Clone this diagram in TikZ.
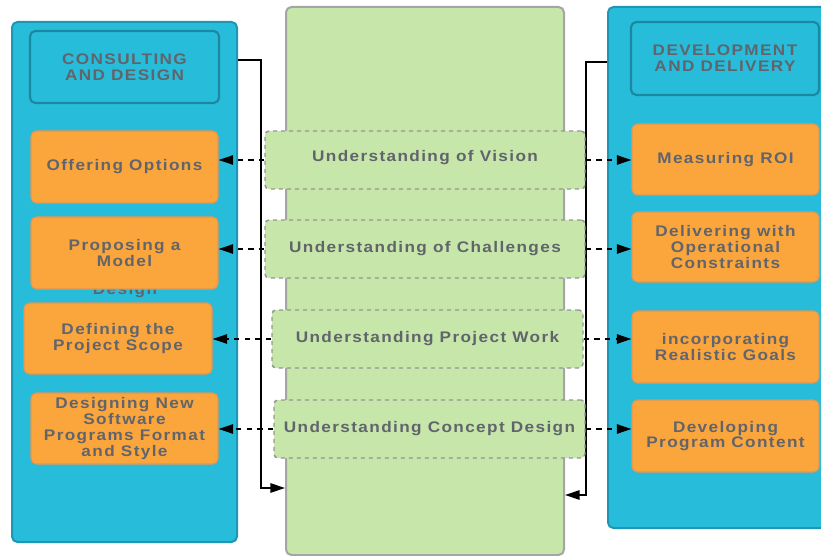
\documentclass[tikz,border=0pt]{standalone}
\usepackage{fontspec}
\setmainfont{Liberation Sans}
\newfontfamily\lab[LetterSpace=9,FakeStretch=1.12]{Liberation Sans}
\usetikzlibrary{arrows.meta,fit}
\definecolor{bluefill}{RGB}{40,188,219}
\definecolor{bluedark}{RGB}{30,150,180}
\definecolor{headb}{RGB}{28,135,160}
\definecolor{orng}{RGB}{250,166,60}
\definecolor{orngb}{RGB}{225,150,85}
\definecolor{grn}{RGB}{198,230,170}
\definecolor{gborder}{RGB}{165,165,165}
\definecolor{gdash}{RGB}{150,150,150}
\definecolor{txt}{RGB}{98,100,108}
\begin{document}
\begin{tikzpicture}[x=0.75pt,y=-0.75pt,
  lbl/.style={font=\lab\bfseries\fontsize{11.5}{11.8}\selectfont, text=txt, align=center},
  panel/.style={draw=bluedark, line width=1.5pt, fill=bluefill, rounded corners=4pt, inner sep=0pt},
  head/.style={lbl, draw=headb, line width=1.6pt, fill=bluefill, rounded corners=4pt, inner sep=0pt},
  obox/.style={lbl, draw=orngb, line width=0.8pt, fill=orng, rounded corners=4pt, inner sep=0pt},
  gbox/.style={lbl, draw=gdash, dashed, line width=1.1pt, fill=grn, rounded corners=3pt, inner sep=0pt},
  column/.style={draw=gborder, line width=1.5pt, fill=grn, rounded corners=4pt, inner sep=0pt},
  solidlink/.style={draw=black, line width=1.5pt, -{Triangle[length=11pt,width=7pt]}},
  dashlink/.style={draw=black, line width=1.3pt, dash pattern=on 4pt off 4pt, -{Triangle[length=11pt,width=7pt]}}
]
\useasboundingbox (0,0) rectangle (821,556);
\clip (0,0) rectangle (821,556);

% panels and column
\node[panel, fit={(12,22) (237,542)}] (lp) {};
\node[panel, fit={(608,7) (840,528)}] (rp) {};
\node[column, fit={(286,7) (564,555)}] (col) {};

% headers
\node[head, fit={(30,31) (219,103)}] (lhead) {};
\node[lbl] at (lhead.center) {CONSULTING\\AND DESIGN};
\node[head, fit={(631,22) (819,95)}] (rhead) {};
\node[lbl] at (rhead.center) {DEVELOPMENT\\AND DELIVERY};

% partially hidden text
\node[lbl, anchor=base] (hid) at (125,294) {Design};

% left orange boxes
\node[obox, fit={(31,131) (218,203)}] (offer) {};
\node[lbl] at (offer.center) {Offering Options};
\node[obox, fit={(31,217) (218,289)}] (propose) {};
\node[lbl] at (propose.center) {Proposing a\\Model};
\node[obox, fit={(24,303) (212,374)}] (define) {};
\node[lbl] at (define.center) {Defining the\\Project Scope};
\node[obox, fit={(31,393) (218,464)}] (designing) {};
\node[lbl] at (designing.center) {Designing New\\Software\\Programs Format\\and Style};

% right orange boxes
\node[obox, fit={(632,124) (819,195)}] (roi) {};
\node[lbl] at (roi.center) {Measuring ROI};
\node[obox, fit={(632,212) (819,282)}] (deliver) {};
\node[lbl] at (deliver.center) {Delivering with\\Operational\\Constraints};
\node[obox, fit={(632,311) (819,383)}] (incorp) {};
\node[lbl] at (incorp.center) {incorporating\\Realistic Goals};
\node[obox, fit={(632,400) (819,472)}] (develop) {};
\node[lbl] at (develop.center) {Developing\\Program Content};

% solid connectors
\coordinate (la) at (261,60);
\coordinate (lb) at (261,488);
\coordinate (ra) at (586,62);
\coordinate (rb) at (586,495);
\draw[solidlink] (lp.east |- la) -- (la) -- (lb) -- (col.west |- lb);
\draw[solidlink] (rp.west |- ra) -- (ra) -- (rb) -- (col.east |- rb);

% green dashed boxes
\node[gbox, fit={(265,131) (585,189)}] (vision) {};
\node[lbl] at ([yshift=1.5pt]vision.center) {Understanding of Vision};
\node[gbox, fit={(265,220) (585,278)}] (chall) {};
\node[lbl] at (chall.center) {Understanding of Challenges};
\node[gbox, fit={(272,310) (583,368)}] (work) {};
\node[lbl] at (work.center) {Understanding Project Work};
\node[gbox, fit={(274,400) (585,458)}] (concept) {};
\node[lbl] at (concept.center) {Understanding Concept Design};

% dashed connectors
\draw[dashlink] (vision.west) -- (vision.west -| offer.east);
\draw[dashlink] (chall.west) -- (chall.west -| propose.east);
\draw[dashlink] (work.west) -- (work.west -| define.east);
\draw[dashlink] (concept.west) -- (concept.west -| designing.east);
\draw[dashlink] (vision.east) -- (vision.east -| roi.west);
\draw[dashlink] (chall.east) -- (chall.east -| deliver.west);
\draw[dashlink] (work.east) -- (work.east -| incorp.west);
\draw[dashlink] (concept.east) -- (concept.east -| develop.west);
\end{tikzpicture}
\end{document}
